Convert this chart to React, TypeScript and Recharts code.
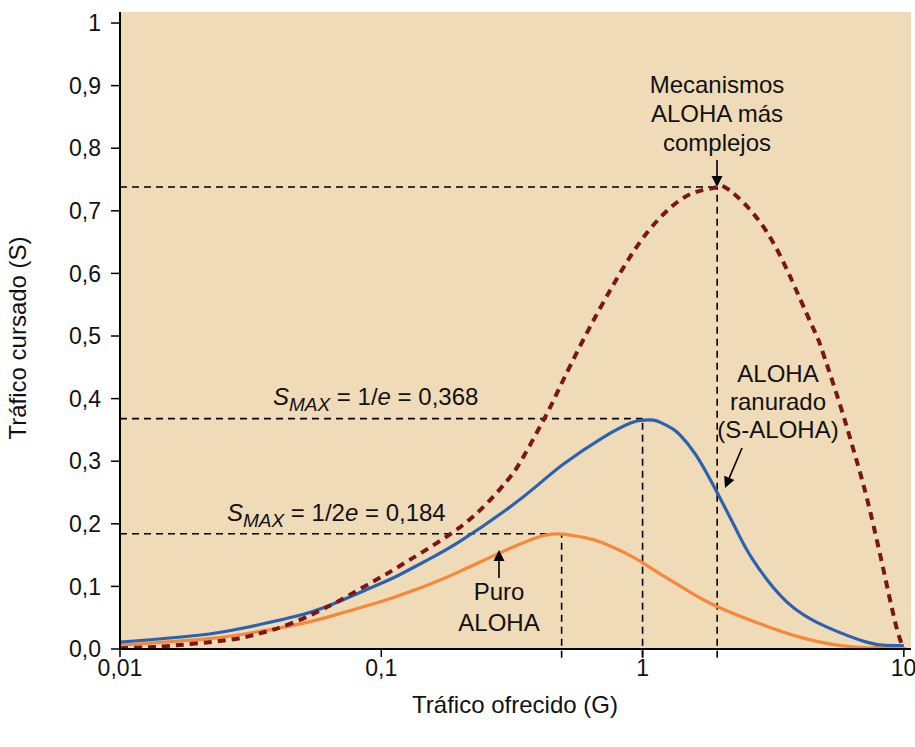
import { LineChart, Line, XAxis, YAxis, CartesianGrid, ReferenceLine } from 'recharts'

// Tráfico ofrecido G (eje logarítmico) y tráfico cursado S
const G_PURO = [0.01, 0.02, 0.03, 0.05, 0.07, 0.1, 0.118, 0.15, 0.2, 0.3, 0.4, 0.45, 0.5, 0.6, 0.7, 0.89, 1.0, 1.166, 1.4, 1.9, 3.0, 4.0, 5.4, 7.2, 8.5, 10]
const S_PURO = [0.006, 0.015, 0.024, 0.041, 0.057, 0.076, 0.086, 0.102, 0.124, 0.158, 0.179, 0.1835, 0.1835, 0.178, 0.17, 0.15, 0.138, 0.12, 0.1, 0.069, 0.036, 0.019, 0.007, 0.002, 0.003, 0.006]

const G_RANURADO = [0.01, 0.02, 0.03, 0.05, 0.07, 0.1, 0.118, 0.15, 0.2, 0.3, 0.4, 0.5, 0.7, 0.9, 1.0, 1.05, 1.1, 1.17, 1.3, 1.39, 1.6, 1.94, 2.3, 2.65, 3.57, 5.08, 7.2, 8.5, 10]
const S_RANURADO = [0.011, 0.022, 0.034, 0.055, 0.077, 0.105, 0.119, 0.142, 0.172, 0.222, 0.263, 0.296, 0.337, 0.361, 0.3655, 0.366, 0.3655, 0.362, 0.352, 0.342, 0.31, 0.248, 0.188, 0.142, 0.075, 0.035, 0.011, 0.006, 0.005]

const G_COMPLEJO = [0.01, 0.0134, 0.0155, 0.0256, 0.0343, 0.046, 0.062, 0.071, 0.1, 0.118, 0.183, 0.246, 0.302, 0.35, 0.418, 0.45, 0.575, 0.778, 1.04, 1.39, 1.7, 1.93, 2.15, 2.97, 4.0, 4.64, 4.93, 5.68, 6.5, 7.2, 8.2, 9.3, 10]
const S_COMPLEJO = [0.001, 0.003, 0.005, 0.014, 0.025, 0.042, 0.067, 0.08, 0.115, 0.133, 0.183, 0.227, 0.268, 0.307, 0.366, 0.392, 0.483, 0.584, 0.665, 0.717, 0.733, 0.738, 0.733, 0.668, 0.56, 0.5, 0.47, 0.392, 0.31, 0.243, 0.142, 0.04, 0]

// máximos marcados con líneas de guía
const GUIDE_G = [0.49, 1, 1.93]
const GUIDE_S = [0.184, 0.368, 0.738]

const X_TICKS = [0.01, 0.1, 1, 10]
const Y_TICKS = [0, 0.1, 0.2, 0.3, 0.4, 0.5, 0.6, 0.7, 0.8, 0.9, 1]

const FONT = 'Arial, "Liberation Sans", Helvetica, sans-serif'
const BG = '#F0DBB8'
const BLUE = '#2B62B0'
const ORANGE = '#F7873A'
const DARK_RED = '#7A1518'

const toRows = (g: number[], s: number[]) => g.map((x, i) => ({ g: x, s: s[i] }))

const fmtX = (v: number) => String(v).replace('.', ',')
const fmtY = (v: number) => (v === 1 ? '1' : v.toFixed(1).replace('.', ','))

function Arrow({ x1, y1, x2, y2 }: { x1: number; y1: number; x2: number; y2: number }) {
  const a = Math.atan2(y2 - y1, x2 - x1)
  const len = 11
  const w = 5.5
  const bx = x2 - len * Math.cos(a)
  const by = y2 - len * Math.sin(a)
  const px = -Math.sin(a) * w
  const py = Math.cos(a) * w
  return (
    <g>
      <line x1={x1} y1={y1} x2={bx} y2={by} stroke="#000" strokeWidth={1.6} />
      <polygon points={`${x2},${y2} ${bx + px},${by + py} ${bx - px},${by - py}`} fill="#000" />
    </g>
  )
}

function Annotations() {
  const t = { fontFamily: FONT, fontSize: 24, fill: '#111' }
  return (
    <svg width={915} height={747} style={{ position: 'absolute', left: 0, top: 0, pointerEvents: 'none' }}>
      <text {...t} x={717} y={93} textAnchor="middle">Mecanismos</text>
      <text {...t} x={717} y={122} textAnchor="middle">ALOHA más</text>
      <text {...t} x={717} y={151} textAnchor="middle">complejos</text>
      <Arrow x1={717} y1={160} x2={717} y2={187} />

      <text {...t} x={778} y={382} textAnchor="middle">ALOHA</text>
      <text {...t} x={778} y={410} textAnchor="middle">ranurado</text>
      <text {...t} x={778} y={438} textAnchor="middle">(S-ALOHA)</text>
      <Arrow x1={742} y1={448} x2={725} y2={488} />

      <text {...t} x={499} y={600} textAnchor="middle">Puro</text>
      <text {...t} x={499} y={631} textAnchor="middle">ALOHA</text>
      <Arrow x1={499} y1={578} x2={499} y2={550} />

      <text {...t} x={273} y={405}>
        <tspan fontStyle="italic">S</tspan>
        <tspan fontStyle="italic" fontSize={19} dy={6}>MAX</tspan>
        <tspan dy={-6}> = 1/</tspan>
        <tspan fontStyle="italic">e</tspan>
        <tspan> = 0,368</tspan>
      </text>
      <text {...t} x={227} y={521}>
        <tspan fontStyle="italic">S</tspan>
        <tspan fontStyle="italic" fontSize={19} dy={6}>MAX</tspan>
        <tspan dy={-6}> = 1/2</tspan>
        <tspan fontStyle="italic">e</tspan>
        <tspan> = 0,184</tspan>
      </text>

      <text {...t} x={515} y={713} textAnchor="middle">Tráfico ofrecido (G)</text>
      <text {...t} x={0} y={0} textAnchor="middle" transform="translate(26 338) rotate(-90)">
        Tráfico cursado (S)
      </text>
    </svg>
  )
}

export default function App() {
  const puro = toRows(G_PURO, S_PURO)
  const ranurado = toRows(G_RANURADO, S_RANURADO)
  const complejo = toRows(G_COMPLEJO, S_COMPLEJO)

  return (
    <div style={{ position: 'absolute', left: 0, top: 0, width: 915, height: 747, background: '#fff', fontFamily: FONT }}>
      <LineChart width={915} height={747} margin={{ top: 12, right: 4, bottom: 0, left: 0 }}>
        <CartesianGrid horizontal={false} vertical={false} fill={BG} stroke="none" />
        <XAxis
          dataKey="g"
          type="number"
          scale="log"
          domain={[0.01, 10.65]}
          allowDataOverflow
          ticks={X_TICKS}
          tickFormatter={fmtX}
          height={98}
          tickSize={8}
          tickMargin={3}
          axisLine={{ stroke: '#000', strokeWidth: 2 }}
          tickLine={{ stroke: '#000', strokeWidth: 1.5 }}
          tick={{ fontSize: 23, fill: '#111', fontFamily: FONT }}
        />
        <YAxis
          dataKey="s"
          type="number"
          domain={[0, 1.0176]}
          allowDataOverflow
          ticks={Y_TICKS}
          tickFormatter={fmtY}
          width={120}
          tickSize={9}
          tickMargin={10}
          axisLine={{ stroke: '#000', strokeWidth: 2 }}
          tickLine={{ stroke: '#000', strokeWidth: 1.5 }}
          tick={{ fontSize: 23, fill: '#111', fontFamily: FONT }}
        />
        {GUIDE_G.map((g, i) => (
          <ReferenceLine
            key={`h${i}`}
            segment={[{ x: 0.01, y: GUIDE_S[i] }, { x: g, y: GUIDE_S[i] }]}
            stroke="#000"
            strokeWidth={1.6}
            strokeDasharray="7 5"
            ifOverflow="visible"
          />
        ))}
        {GUIDE_G.map((g, i) => (
          <ReferenceLine
            key={`v${i}`}
            segment={[{ x: g, y: -0.014 }, { x: g, y: GUIDE_S[i] }]}
            stroke="#000"
            strokeWidth={1.6}
            strokeDasharray="7 5"
            ifOverflow="visible"
          />
        ))}
        <Line
          data={puro}
          dataKey="s"
          type="natural"
          stroke={ORANGE}
          strokeWidth={3.2}
          dot={false}
          isAnimationActive={false}
        />
        <Line
          data={ranurado}
          dataKey="s"
          type="natural"
          stroke={BLUE}
          strokeWidth={3.2}
          dot={false}
          isAnimationActive={false}
        />
        <Line
          data={complejo}
          dataKey="s"
          type="natural"
          stroke={DARK_RED}
          strokeWidth={4}
          strokeDasharray="8 6"
          dot={false}
          isAnimationActive={false}
        />
      </LineChart>
      <Annotations />
    </div>
  )
}
